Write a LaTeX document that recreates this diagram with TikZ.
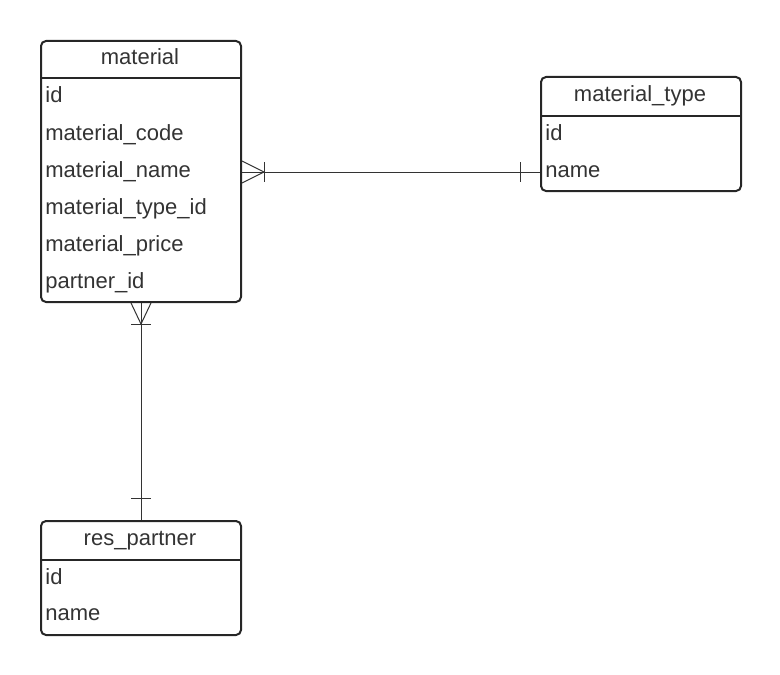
\documentclass[tikz,border=0pt]{standalone}
\usepackage{fontspec}
\setmainfont{Liberation Sans}
\usepackage{tikz}
\usetikzlibrary{positioning,calc}
\tikzset{
  erfont/.style={font=\fontsize{11}{13}\selectfont, text=black!80},
  erbox/.style={draw=black!85, line width=1pt, rounded corners=2.5pt, minimum width=100pt, inner sep=0pt},
  erhead/.style={draw=black!85, line width=1pt},
  ertitle/.style={erfont, anchor=base, inner sep=0pt},
  erfield/.style={erfont, anchor=base west, inner sep=0pt, text height=7.5pt, text depth=2.5pt},
  errel/.style={draw=black!80, line width=0.5pt},
}

\begin{document}
\begin{tikzpicture}[x=0.5pt, y=-0.5pt]
		\useasboundingbox (0,0) rectangle (780,674);

		% Table: material
		\node[erbox, minimum height=130.5pt, anchor=north west] (material) at (40,40) {};
		\draw[erhead] ($(material.north west)+(0,38)$) -- ($(material.north east)+(0,38)$);
		\node[ertitle] (materialtitle) at (140,65) {material};
		\foreach \fname/\fy in {id/103, material_code/140, material_name/177, material_type_id/214, material_price/251, partner_id/288}
			\node[erfield] (m-\fname) at (45,\fy) {\detokenize\expandafter{\fname}};

		% Table: material_type
		\node[erbox, minimum height=57pt, anchor=north west] (mtype) at (540,76) {};
		\draw[erhead] ($(mtype.north west)+(0,40)$) -- ($(mtype.north east)+(0,40)$);
		\node[ertitle] (mtypetitle) at (640,102) {material\_type};
		\node[erfield] (t-id) at (545,140) {id};
		\node[erfield] (t-name) at (545,177) {name};

		% Table: res_partner
		\node[erbox, minimum height=57pt, anchor=north west] (partner) at (40,520) {};
		\draw[erhead] ($(partner.north west)+(0,40)$) -- ($(partner.north east)+(0,40)$);
		\node[ertitle] (partnertitle) at (140,545) {res\_partner};
		\node[erfield] (p-id) at (45,584) {id};
		\node[erfield] (p-name) at (45,620) {name};

		% Relation: material (many) -- material_type (one)
		\coordinate (r1a) at (material.east |- m-material_name);
		\coordinate (r1b) at (mtype.west |- t-name);
		\draw[errel] (r1a) -- (r1b);
		\draw[errel] ($(r1a)+(0,-11)$) -- ($(r1a)+(22,0)$) -- ($(r1a)+(0,11)$);
		\draw[errel] ($(r1a)+(22,-10)$) -- ($(r1a)+(22,10)$);
		\draw[errel] ($(r1b)+(-20,-10)$) -- ($(r1b)+(-20,10)$);

		% Relation: material (many) -- res_partner (one)
		\coordinate (r2a) at (material.south);
		\coordinate (r2b) at (partner.north);
		\draw[errel] (r2a) -- (r2b);
		\draw[errel] ($(r2a)+(-10,0)$) -- ($(r2a)+(0,21)$) -- ($(r2a)+(10,0)$);
		\draw[errel] ($(r2a)+(-10,21)$) -- ($(r2a)+(10,21)$);
		\draw[errel] ($(r2b)+(-10,-22)$) -- ($(r2b)+(10,-22)$);
	\end{tikzpicture}
\end{document}
